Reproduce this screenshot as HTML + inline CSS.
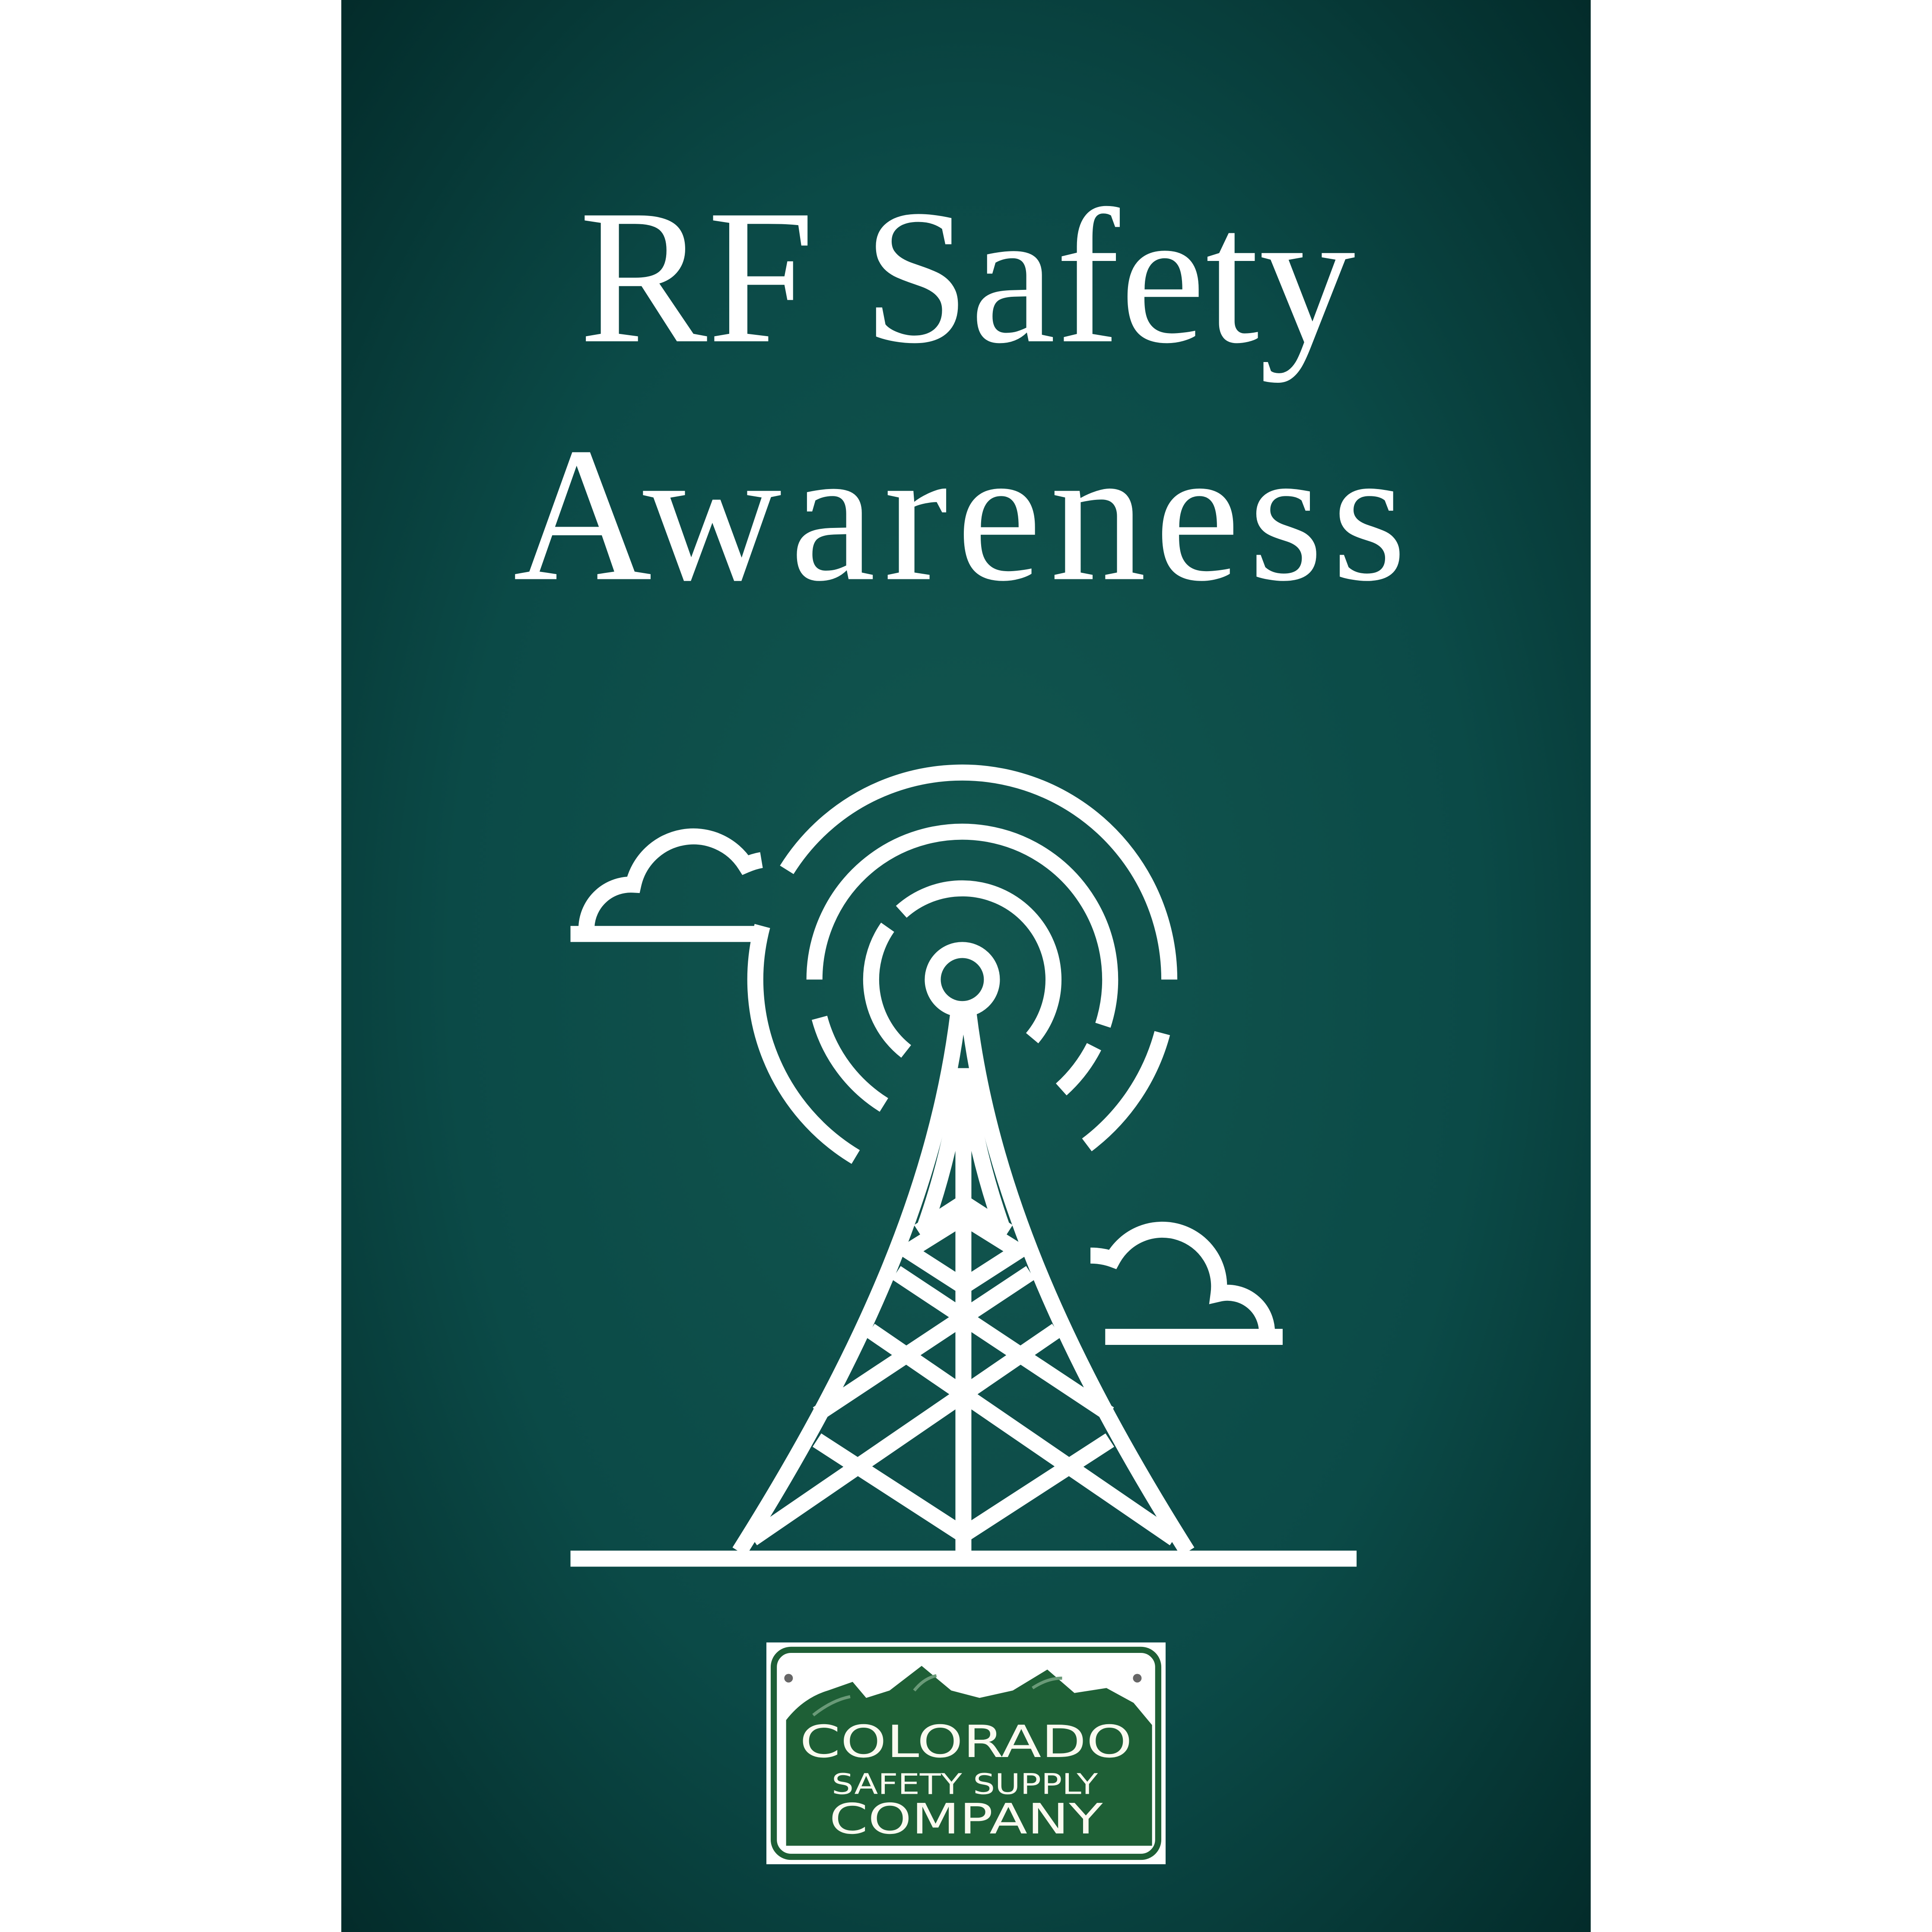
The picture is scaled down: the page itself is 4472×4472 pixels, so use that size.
<!DOCTYPE html>
<html><head><meta charset="utf-8"><style>
html,body{margin:0;padding:0;background:#fff}
svg{display:block}
.ns{vector-effect:non-scaling-stroke}
</style></head><body>
<svg width="4472" height="4472" viewBox="0 0 1568 1568" xmlns="http://www.w3.org/2000/svg">
<defs>
<radialGradient id="bg" cx="0.5" cy="0.5" r="0.75">
<stop offset="0" stop-color="#12564f"/>
<stop offset="0.55" stop-color="#0b4a47"/>
<stop offset="1" stop-color="#022726"/>
</radialGradient>
</defs>
<rect x="0" y="0" width="1568" height="1568" fill="#fff"/>
<rect x="277" y="0" width="1014" height="1568" fill="url(#bg)"/>
<text x="785" y="277" text-anchor="middle" font-family="Liberation Serif, serif" font-size="156" fill="#fff" textLength="630">RF Safety</text>
<text x="779" y="470" text-anchor="middle" font-family="Liberation Serif, serif" font-size="156" fill="#fff" textLength="725">Awareness</text>
<g id="icon" fill="none" stroke="#fff" stroke-width="13">
<line x1="463" y1="1265" x2="1101" y2="1265"/>
<circle cx="781" cy="795" r="24"/>
<path d="M463 758 L612 758 M476 752 A36 36 0 0 1 514 718 A50 50 0 0 1 605 702 Q612 699 618 698"/>
<path d="M897 1085 L1041 1085 M1028 1085 A32 32 0 0 0 989 1050 A46 46 0 0 0 903 1022 Q895 1019 885 1019"/>
</g>
<g transform="translate(578.5,806.5) scale(0.26833,0.3019)" fill="none" stroke="#fff" stroke-width="37">
<path class="ns" d="M742 55 C680 500 470 950 80 1500"/>
<path class="ns" d="M774 55 C836 500 1046 950 1436 1500"/>
<path class="ns" d="M752 215 Q720 430 640 630"/>
<path class="ns" d="M764 215 Q796 430 876 630"/>
<line class="ns" x1="758" y1="200" x2="758" y2="1500"/>
<path class="ns" d="M622 640 L758 562 L894 640 M592 692 L758 600 L924 692 L758 787 Z M555 750 L1200 1130 M961 750 L316 1130 M120 1465 L1040 905 M1396 1465 L476 905 M315 1200 L758 1455 L1201 1200"/>
</g>
<g id="arcs" fill="none" stroke="#fff" stroke-width="13"></g>
<g>
<rect x="622" y="1333" width="324" height="180" fill="#fff"/>
<rect x="628" y="1339" width="312" height="168" rx="14" fill="none" stroke="#1e5f36" stroke-width="5"/>
<path d="M638 1396 Q652 1378 672 1372 L692 1365 L703 1378 L722 1372 L748 1352 L772 1372 L795 1378 L822 1372 L850 1355 L872 1374 L898 1370 L920 1382 L935 1400 L935 1498 L638 1498 Z" fill="#1e5f36"/>
<path d="M660 1392 Q675 1380 690 1377 M742 1372 Q750 1362 760 1360 M838 1370 Q850 1362 862 1362" fill="none" stroke="#6a9a78" stroke-width="2.5"/>
<circle cx="640" cy="1362" r="3.5" fill="#666"/>
<circle cx="923" cy="1362" r="3.5" fill="#666"/>
<g font-family="DejaVu Sans, Liberation Sans, sans-serif" fill="#fbfaf0" text-anchor="middle">
<text x="784" y="1426" font-size="36" textLength="270" lengthAdjust="spacingAndGlyphs">COLORADO</text>
<text x="783" y="1456" font-size="23" textLength="216" lengthAdjust="spacingAndGlyphs">SAFETY  SUPPLY</text>
<text x="784" y="1488" font-size="34" textLength="222" lengthAdjust="spacingAndGlyphs">COMPANY</text>
</g>
</g>
</svg>
<script>
var cx=781, cy=795;
var arcs=[[168,-148,0],[168,195,121],[168,15,53],[120,-180,18],[120,165,122],[120,27,48],[74,-132,40],[74,215,128]];
var g=document.getElementById('arcs');
arcs.forEach(function(a){
  var r=a[0],a1=a[1]*Math.PI/180,a2=a[2]*Math.PI/180;
  var x1=cx+r*Math.cos(a1),y1=cy+r*Math.sin(a1),x2=cx+r*Math.cos(a2),y2=cy+r*Math.sin(a2);
  var sweep=a2>a1?1:0, large=Math.abs(a2-a1)>Math.PI?1:0;
  var p=document.createElementNS('http://www.w3.org/2000/svg','path');
  p.setAttribute('d','M'+x1+' '+y1+' A'+r+' '+r+' 0 '+large+' '+sweep+' '+x2+' '+y2);
  
  
  g.appendChild(p);
});
</script>
</body></html>
